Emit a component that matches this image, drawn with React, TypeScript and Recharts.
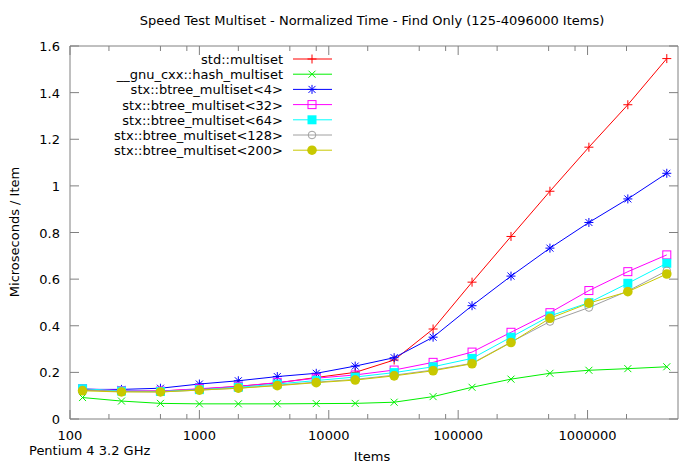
import React from "react";
import { LineChart, Line, XAxis, YAxis, ReferenceArea, Customized } from "recharts";

// items per test run (log x axis)
const items = [125, 250, 500, 1000, 2000, 4000, 8000, 16000, 32000, 64000, 128000, 256000, 512000, 1024000, 2048000, 4096000];

// microseconds per item
const stdMultiset = [0.125, 0.118, 0.12, 0.128, 0.14, 0.155, 0.178, 0.2, 0.253, 0.386, 0.587, 0.783, 0.977, 1.166, 1.348, 1.546];
const hashMultiset = [0.092, 0.077, 0.067, 0.065, 0.065, 0.065, 0.066, 0.067, 0.072, 0.096, 0.136, 0.171, 0.196, 0.209, 0.216, 0.224];
const btree4 = [0.127, 0.127, 0.132, 0.15, 0.164, 0.182, 0.196, 0.227, 0.263, 0.351, 0.486, 0.613, 0.733, 0.843, 0.944, 1.054];
const btree32 = [0.13, 0.122, 0.12, 0.13, 0.14, 0.156, 0.175, 0.189, 0.21, 0.243, 0.287, 0.372, 0.456, 0.551, 0.632, 0.704];
const btree64 = [0.13, 0.12, 0.118, 0.126, 0.136, 0.15, 0.165, 0.18, 0.199, 0.224, 0.26, 0.351, 0.442, 0.499, 0.582, 0.668];
const btree128 = [0.125, 0.118, 0.116, 0.124, 0.132, 0.145, 0.158, 0.17, 0.188, 0.21, 0.239, 0.33, 0.418, 0.478, 0.549, 0.636];
const btree200 = [0.121, 0.116, 0.116, 0.124, 0.132, 0.143, 0.156, 0.167, 0.185, 0.207, 0.237, 0.328, 0.432, 0.497, 0.546, 0.622];

const xTicks = [100, 200, 500, 800, 1000, 2000, 5000, 8000, 10000, 20000, 50000, 80000, 100000, 200000, 500000, 800000, 1000000, 2000000];
const xLabeled = [100, 1000, 10000, 100000, 1000000];
const yTicks = [0, 0.2, 0.4, 0.6, 0.8, 1, 1.2, 1.4, 1.6];

type Kind = "plus" | "cross" | "star" | "box" | "fbox" | "circle" | "fcircle";

const series: { key: string; name: string; color: string; kind: Kind; values: number[] }[] = [
  { key: "std", name: "std::multiset", color: "#ff0000", kind: "plus", values: stdMultiset },
  { key: "hash", name: "__gnu_cxx::hash_multiset", color: "#00f000", kind: "cross", values: hashMultiset },
  { key: "b4", name: "stx::btree_multiset<4>", color: "#0000ff", kind: "star", values: btree4 },
  { key: "b32", name: "stx::btree_multiset<32>", color: "#ff00ff", kind: "box", values: btree32 },
  { key: "b64", name: "stx::btree_multiset<64>", color: "#00ffff", kind: "fbox", values: btree64 },
  { key: "b128", name: "stx::btree_multiset<128>", color: "#a0a0a0", kind: "circle", values: btree128 },
  { key: "b200", name: "stx::btree_multiset<200>", color: "#c8c800", kind: "fcircle", values: btree200 },
];

const data = items.map((n, i) => {
  const row: Record<string, number> = { items: n };
  series.forEach((s) => (row[s.key] = s.values[i]));
  return row;
});

const FONT = "'DejaVu Sans', sans-serif";
const TOP = 46;
const BOTTOM = 419;
const LEFT = 70;
const RIGHT = 678;
const AXIS = "#808080";

function Marker({ kind, x, y, color }: { kind: Kind; x: number; y: number; color: string }) {
  const s = 4.5;
  const c = 3.5;
  switch (kind) {
    case "plus":
      return (
        <g stroke={color} strokeWidth={1}>
          <line x1={x - s} x2={x + s} y1={y} y2={y} />
          <line x1={x} x2={x} y1={y - s} y2={y + s} />
        </g>
      );
    case "cross":
      return (
        <g stroke={color} strokeWidth={1}>
          <line x1={x - c} x2={x + c} y1={y - c} y2={y + c} />
          <line x1={x - c} x2={x + c} y1={y + c} y2={y - c} />
        </g>
      );
    case "star":
      return (
        <g stroke={color} strokeWidth={1}>
          <line x1={x - s} x2={x + s} y1={y} y2={y} />
          <line x1={x} x2={x} y1={y - s} y2={y + s} />
          <line x1={x - c} x2={x + c} y1={y - c} y2={y + c} />
          <line x1={x - c} x2={x + c} y1={y + c} y2={y - c} />
        </g>
      );
    case "box":
      return <rect x={x - 4} y={y - 4} width={8} height={8} fill="none" stroke={color} />;
    case "fbox":
      return <rect x={x - 4.5} y={y - 4.5} width={9} height={9} fill={color} />;
    case "circle":
      return <circle cx={x} cy={y} r={3.8} fill="none" stroke={color} />;
    default:
      return <circle cx={x} cy={y} r={4.8} fill={color} />;
  }
}

const XTick = (props: any) => {
  const { x, payload } = props;
  const major = xLabeled.includes(payload.value);
  const len = major ? 9 : 5;
  return (
    <g>
      <line x1={x} x2={x} y1={BOTTOM} y2={BOTTOM - len} stroke={AXIS} />
      <line x1={x} x2={x} y1={TOP} y2={TOP + len} stroke={AXIS} />
      {major && (
        <text x={x} y={BOTTOM + 21} textAnchor="middle" fontFamily={FONT} fontSize={13} fill="#000">
          {payload.value}
        </text>
      )}
    </g>
  );
};

const YTick = (props: any) => {
  const { y, payload } = props;
  return (
    <g>
      <line x1={LEFT} x2={LEFT + 9} y1={y} y2={y} stroke={AXIS} />
      <line x1={RIGHT} x2={RIGHT - 9} y1={y} y2={y} stroke={AXIS} />
      <text x={LEFT - 10} y={y + 5} textAnchor="end" fontFamily={FONT} fontSize={13} fill="#000">
        {payload.value}
      </text>
    </g>
  );
};

const Decor = () => (
  <g fontFamily={FONT} fontSize={13} fill="#000">
    <text x={372} y={25} textAnchor="middle">
      Speed Test Multiset - Normalized Time - Find Only (125-4096000 Items)
    </text>
    <text x={372} y={461} textAnchor="middle">Items</text>
    <text x={29} y={455}>Pentium 4 3.2 GHz</text>
    <text transform="translate(19,232) rotate(-90)" textAnchor="middle">
      Microseconds / Item
    </text>
    {series.map((s, i) => {
      const y = 59 + i * 15.2;
      return (
        <g key={s.key}>
          <text x={283} y={y + 5} textAnchor="end">{s.name}</text>
          <line x1={293} x2={332} y1={y} y2={y} stroke={s.color} />
          <Marker kind={s.kind} x={312} y={y} color={s.color} />
        </g>
      );
    })}
  </g>
);

export default function App() {
  return (
    <div style={{ position: "absolute", left: 0, top: 0, background: "#fff" }}>
      <LineChart width={700} height={467} data={data} margin={{ top: TOP, right: 700 - RIGHT, bottom: 8, left: 10 }}>
        <XAxis
          dataKey="items"
          type="number"
          scale="log"
          domain={[100, 5000000]}
          ticks={xTicks}
          interval={0}
          allowDataOverflow
          axisLine={false}
          tickLine={false}
          tick={<XTick />}
          height={467 - 8 - BOTTOM}
        />
        <YAxis
          type="number"
          domain={[0, 1.6]}
          ticks={yTicks}
          interval={0}
          axisLine={false}
          tickLine={false}
          tick={<YTick />}
          width={LEFT - 10}
        />
        <ReferenceArea x1={100} x2={5000000} y1={0} y2={1.6} fill="none" stroke={AXIS} strokeOpacity={1} />
        {series.map((s) => (
          <Line
            key={s.key}
            dataKey={s.key}
            name={s.name}
            stroke={s.color}
            strokeWidth={1}
            isAnimationActive={false}
            dot={(p: any) => <Marker key={p.index} kind={s.kind} x={p.cx} y={p.cy} color={s.color} />}
            activeDot={false}
          />
        ))}
        <Customized component={Decor} />
      </LineChart>
    </div>
  );
}
